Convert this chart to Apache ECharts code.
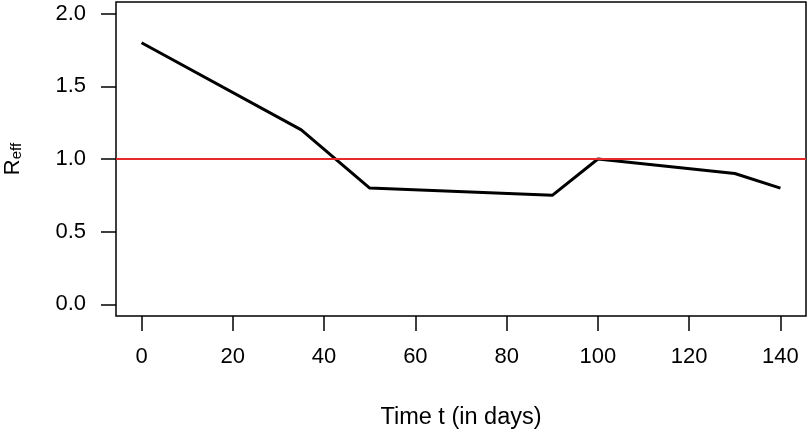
<!DOCTYPE html>
<html><head><meta charset="utf-8">
<script src="https://cdn.jsdelivr.net/npm/echarts@6/dist/echarts.min.js"></script>
<style>html,body{margin:0;padding:0;background:#fff}#c{width:809px;height:434px}</style>
</head><body><div id="c"></div>
<script>
var days = [0, 35, 50, 90, 100, 130, 140];
var reff = [1.8, 1.2, 0.8, 0.75, 1.0, 0.9, 0.8];
var xTicks = [0, 20, 40, 60, 80, 100, 120, 140];
var yTicks = [0, 0.5, 1.0, 1.5, 2.0];
var threshold = 1.0;
var font = 'Liberation Sans';
var chart = echarts.init(document.getElementById('c'));
chart.setOption({
  animation: false,
  backgroundColor: '#fff',
  grid: {left: 116, right: 3, top: 2, bottom: 118, containLabel: false, outerBoundsMode: 'none',
    show: true, borderColor: '#000', borderWidth: 1.5, backgroundColor: 'transparent'},
  xAxis: {
    type: 'value', min: -5.6, max: 145.6,
    name: 'Time t (in days)', nameLocation: 'middle', nameGap: 90,
    nameTextStyle: {fontFamily: font, fontSize: 23.5, color: '#000'},
    axisLine: {show: false, onZero: false},
    splitLine: {show: false},
    axisTick: {show: true, length: 15, inside: false, customValues: xTicks, lineStyle: {color: '#000', width: 1.5}},
    axisLabel: {customValues: xTicks, margin: 30, fontFamily: font, fontSize: 22, color: '#000'}
  },
  yAxis: {
    type: 'value', min: -0.08, max: 2.08,
    name: '{a|R}{b|eff}', nameLocation: 'middle', nameGap: 92, nameRotate: 90,
    nameTextStyle: {fontFamily: font, color: '#000', rich: {
      a: {fontFamily: font, fontSize: 22, color: '#000'},
      b: {fontFamily: font, fontSize: 15, color: '#000', padding: [8, 0, 0, 0]}
    }},
    axisLine: {show: false, onZero: false},
    splitLine: {show: false},
    axisTick: {show: true, length: 15, inside: false, customValues: yTicks, lineStyle: {color: '#000', width: 1.5}},
    axisLabel: {customValues: yTicks, margin: 30, fontFamily: font, fontSize: 22, color: '#000',
      formatter: function (v) { return v.toFixed(1); }}
  },
  series: [{
    type: 'line',
    data: days.map(function (d, i) { return [d, reff[i]]; }),
    showSymbol: false, symbol: 'none',
    lineStyle: {color: '#000', width: 3},
    markLine: {
      silent: true, symbol: ['none', 'none'], label: {show: false},
      lineStyle: {color: '#e62a2a', width: 1.8, type: 'solid'},
      data: [{yAxis: threshold}]
    },
    z: 3
  }]
});
</script></body></html>
